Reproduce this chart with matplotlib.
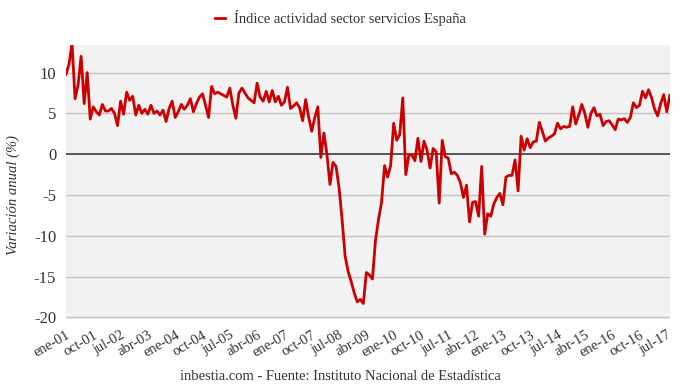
import matplotlib
matplotlib.use("Agg")
import matplotlib.pyplot as plt

plt.rcParams['font.family'] = ['Liberation Serif', 'DejaVu Serif']

# datos mensuales, ene-01 .. ago-17 (variación anual, %)
valores = [
    9.8, 11.0, 13.6, 6.8, 8.5, 12.0, 6.2, 10.0, 4.3, 5.8, 5.2, 4.8,
    6.1, 5.3, 5.3, 5.6, 5.0, 3.5, 6.5, 4.9, 7.6, 6.6, 7.1, 4.8,
    6.0, 5.0, 5.5, 4.9, 6.0, 5.0, 5.3, 4.8, 5.4, 4.0, 5.6, 6.5,
    4.5, 5.2, 6.1, 5.5, 6.0, 6.8, 5.2, 6.2, 7.0, 7.4, 6.0, 4.5,
    8.3, 7.4, 7.6, 7.4, 7.2, 7.0, 8.1, 6.0, 4.4, 7.5, 8.1, 7.5,
    6.9, 6.6, 6.3, 8.7, 7.0, 6.5, 7.7, 6.4, 7.8, 6.4, 7.1, 6.0,
    6.4, 8.2, 5.6, 5.9, 6.3, 5.7, 4.1, 6.7, 4.5, 2.8, 4.5, 5.8,
    -0.4, 2.6, 0.0, -3.7, -1.0, -1.5, -4.1, -8.0, -12.5, -14.4, -15.6, -17.0,
    -18.1, -17.8, -18.3, -14.5, -14.8, -15.3, -10.6, -8.0, -5.9, -1.4, -2.8, -1.4,
    3.8, 1.7, 2.4, 6.9, -2.5, -0.1, -0.1, -0.8, 1.95, -0.9, 1.6, 0.5,
    -1.7, 0.7, 0.3, -6.0, 1.7, -0.3, -0.5, -2.4, -2.2, -2.6, -3.5, -5.3,
    -3.8, -8.3, -5.9, -5.8, -7.6, -1.5, -9.8, -7.3, -7.6, -6.1, -5.3, -4.8,
    -6.2, -2.8, -2.6, -2.6, -0.7, -4.5, 2.2, 0.5, 1.9, 0.8, 1.5, 1.6,
    3.9, 2.8, 1.6, 2.0, 2.2, 2.5, 3.8, 3.1, 3.4, 3.3, 3.4, 5.8,
    3.7, 4.8, 6.1, 5.0, 3.3, 5.0, 5.7, 4.7, 4.9, 3.5, 4.0, 4.1,
    3.6, 3.0, 4.3, 4.2, 4.35, 3.9, 4.5, 6.3, 5.7, 6.0, 7.7, 6.9,
    7.9, 6.9, 5.5, 4.7, 6.2, 7.3, 5.2, 7.2,
]
meses = ['ene', 'feb', 'mar', 'abr', 'may', 'jun', 'jul', 'ago', 'sep', 'oct', 'nov', 'dic']
anio_inicio = 2001
paso_ticks = 9
yticks = [10, 5, 0, -5, -10, -15, -20]

etiquetas = ['%s-%02d' % (meses[i % 12], (anio_inicio + i // 12) % 100) for i in range(len(valores))]
x = list(range(len(valores)))

fig = plt.figure(figsize=(6.8, 3.9), dpi=100)
ax = fig.add_axes([0.097, 0.182, 0.888, 0.703])
ax.set_facecolor('#f2f2f2')

for y in yticks:
    if y == 0:
        ax.axhline(y, color='#555555', lw=1.4, zorder=1)
    else:
        ax.axhline(y, color='#c4c4c4', lw=1.0, zorder=1)

linea, = ax.plot(x, valores, color='#cc0000', lw=2.0, zorder=3,
                 solid_joinstyle='round',
                 label='Índice actividad sector servicios España')

ax.set_xlim(0, len(valores) - 1)
ax.set_ylim(-20.2, 13.4)
ax.set_yticks(yticks)
ax.set_yticklabels([str(v) for v in yticks], fontsize=12, color='#333333')
pos = x[::paso_ticks]
ax.set_xticks(pos)
ax.set_xticklabels([etiquetas[i] for i in pos], rotation=30, ha='right',
                   rotation_mode='anchor', fontsize=10.5, color='#333333')
ax.tick_params(axis='both', length=0, pad=7)
for s in ax.spines.values():
    s.set_visible(False)

# etiqueta del eje y puesta a mano para que no se corte
fig.text(0.02, 0.5, 'Variación anual (%)', rotation=90, ha='center', va='center',
         fontsize=10.5, style='italic', color='#333333')

fig.legend(handles=[linea], loc='upper center', bbox_to_anchor=(0.5, 1.008),
           frameon=False, fontsize=10.5, handlelength=0.7, handletextpad=0.6,
           labelcolor='#333333')

fig.text(0.5, 0.025, 'inbestia.com - Fuente: Instituto Nacional de Estadística',
         ha='center', fontsize=10.5, color='#333333')

fig.savefig('out.png', dpi=100)
